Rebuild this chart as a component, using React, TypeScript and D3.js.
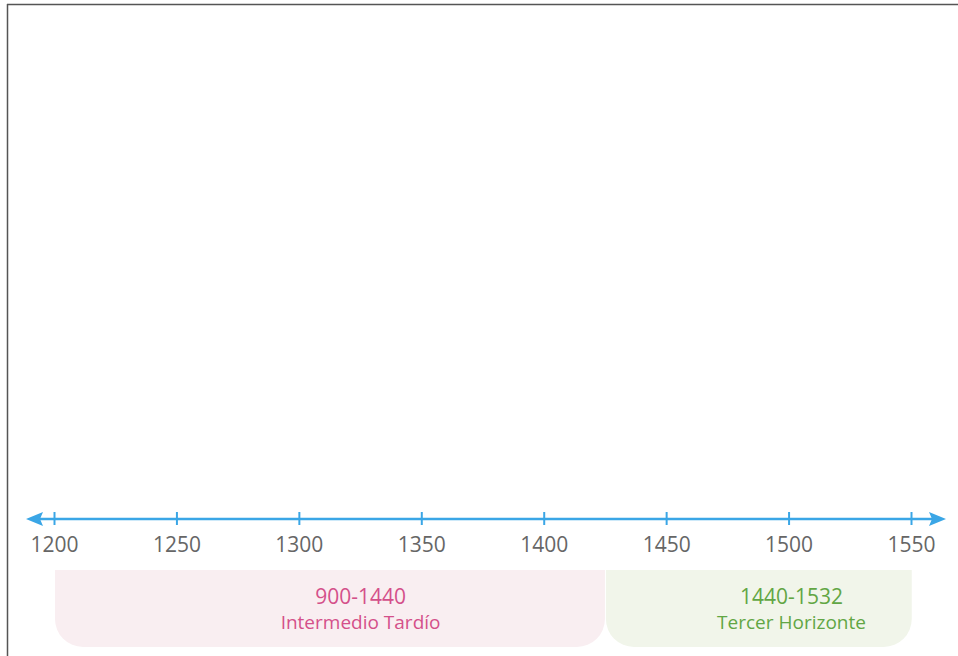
import React from "react";
import * as d3 from "d3";

const tickYears = [1200, 1250, 1300, 1350, 1400, 1450, 1500, 1550];
const periodRanges = ["900-1440", "1440-1532"];
const periodNames = ["Intermedio Tardío", "Tercer Horizonte"];
const periodStart = [1200.2, 1425.2];
const periodEnd = [1424.8, 1550.1];
const periodLabelAt = [1325, 1501];
const periodText = ["#d4508a", "#62a644"];
const periodFill = ["#f9eef1", "#f1f5ea"];

const W = 958;
const H = 656;
const FONT = "'Open Sans', Lato, sans-serif";

function boxPath(x0: number, x1: number, y0: number, y1: number, r: number) {
  const p = d3.path();
  p.moveTo(x0, y0);
  p.lineTo(x1, y0);
  p.lineTo(x1, y1 - r);
  p.arcTo(x1, y1, x1 - r, y1, r);
  p.lineTo(x0 + r, y1);
  p.arcTo(x0, y1, x0, y1 - r, r);
  p.closePath();
  return p.toString();
}

export default function App() {
  const x = d3.scaleLinear().domain([1200, 1550]).range([54.5, 911.5]);
  const axisY = 519;
  const blue = "#3aa6e6";
  const boxTop = 570;
  const boxBottom = 647;

  return (
    <svg
      width={W}
      height={H}
      style={{ position: "absolute", left: 0, top: 0, display: "block" }}
    >
      <rect x={0} y={0} width={W} height={H} fill="#fff" />
      {/* frame */}
      <line x1={7.5} y1={4} x2={7.5} y2={H} stroke="#555" strokeWidth={1.5} />
      <line x1={7} y1={4.5} x2={W} y2={4.5} stroke="#555" strokeWidth={1.5} />

      {/* period boxes */}
      {periodRanges.map((r, i) => {
        const x0 = x(periodStart[i]);
        const x1 = x(periodEnd[i]);
        const cx = x(periodLabelAt[i]);
        return (
          <g key={r}>
            <path d={boxPath(x0, x1, boxTop, boxBottom, 28)} fill={periodFill[i]} />
            <text
              x={cx}
              y={603.5}
              textAnchor="middle"
              fontFamily={FONT}
              fontWeight={400}
              fontSize={21}
              fill={periodText[i]}
            >
              {r}
            </text>
            <text
              x={cx}
              y={629}
              textAnchor="middle"
              fontFamily={FONT}
              fontWeight={400}
              fontSize={19}
              fill={periodText[i]}
            >
              {periodNames[i]}
            </text>
          </g>
        );
      })}

      {/* axis line with arrows */}
      <line x1={38} y1={axisY} x2={935} y2={axisY} stroke={blue} strokeWidth={2.5} />
      <path d={`M26,${axisY} L43,${axisY - 7} L40,${axisY} L43,${axisY + 7} Z`} fill={blue} />
      <path d={`M946,${axisY} L929,${axisY - 7} L932,${axisY} L929,${axisY + 7} Z`} fill={blue} />

      {tickYears.map((t) => (
        <g key={t}>
          <line x1={x(t)} y1={512} x2={x(t)} y2={525} stroke={blue} strokeWidth={2} />
          <text
            x={x(t)}
            y={552}
            textAnchor="middle"
            fontFamily={FONT}
            fontWeight={400}
            fontSize={21}
            fill="#666"
          >
            {t}
          </text>
        </g>
      ))}
    </svg>
  );
}
